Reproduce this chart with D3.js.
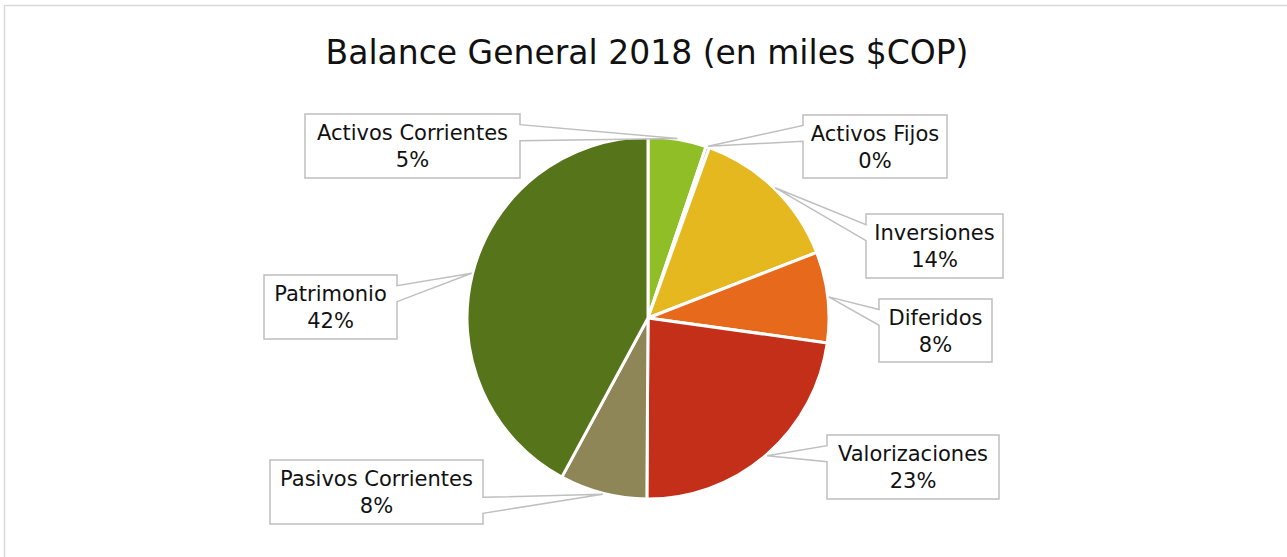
<!DOCTYPE html>
<html>
<head>
<meta charset="utf-8">
<script src="https://cdn.jsdelivr.net/npm/d3@7.9.0/dist/d3.min.js"></script>
<style>
  body { margin: 0; background: #fff; }
  svg { display: block; }
  text { font-family: "DejaVu Sans", sans-serif; fill: #111; }
</style>
</head>
<body>
<svg width="1287" height="557"></svg>
<script>
const categories = ['Activos Corrientes', 'Activos Fijos', 'Inversiones', 'Diferidos',
                    'Valorizaciones', 'Pasivos Corrientes', 'Patrimonio'];
const shares = [5.2, 0.3, 13.6, 8.1, 22.9, 7.8, 42.1];
const sliceColors = ['#8fbe26', '#7f7f7f', '#e6b820', '#e7691c', '#c42f19', '#8f8658', '#56741a'];

// callout boxes [left, top, width, height]
const boxes = [
  [305, 114, 215, 64],
  [803, 115, 144, 63],
  [866, 214, 137, 64],
  [879, 299, 113, 63],
  [827, 435, 172, 64],
  [270, 460, 213, 64],
  [264, 275, 133, 64]
];

const svg = d3.select('svg');
const cx = 648, cy = 318, r = 181;

// chart frame
svg.append('rect')
  .attr('x', 4.5).attr('y', 5.5)
  .attr('width', 1300).attr('height', 570)
  .attr('fill', 'none').attr('stroke', '#d9d9d9').attr('stroke-width', 1.5);

svg.append('text')
  .attr('x', 647).attr('y', 64)
  .attr('text-anchor', 'middle')
  .style('font-size', '33px')
  .text('Balance General 2018 (en miles $COP)');

const total = d3.sum(shares);
const pie = d3.pie().sort(null).value((d) => d);
const arcData = pie(shares);
const arcGen = d3.arc().innerRadius(0).outerRadius(r);
const tipArc = d3.arc().innerRadius(r + 1).outerRadius(r + 1);

const g = svg.append('g').attr('transform', `translate(${cx},${cy})`);
g.selectAll('path')
  .data(arcData)
  .join('path')
  .attr('d', arcGen)
  .attr('fill', (d, i) => sliceColors[i])
  .attr('stroke', '#fff')
  .attr('stroke-width', 3)
  .attr('stroke-linejoin', 'round');

// rectangular callout with a wedge pointing at the slice
function callout(l, t, w, h, px, py) {
  const rr = l + w, b = t + h;
  const dxPos = px - (l + w / 2), dyPos = py - (t + h / 2);
  const dq = dxPos * h / w;
  if (Math.abs(dyPos) <= Math.abs(dq)) {
    const y1 = t + h * (dyPos >= 0 ? 7 : 2) / 12;
    const y2 = t + h * (dyPos >= 0 ? 10 : 5) / 12;
    if (dxPos < 0) return `M${l},${t}L${rr},${t}L${rr},${b}L${l},${b}L${l},${y2}L${px},${py}L${l},${y1}Z`;
    return `M${l},${t}L${rr},${t}L${rr},${y1}L${px},${py}L${rr},${y2}L${rr},${b}L${l},${b}Z`;
  }
  const x1 = l + w * (dxPos >= 0 ? 7 : 2) / 12;
  const x2 = l + w * (dxPos >= 0 ? 10 : 5) / 12;
  if (dyPos < 0) return `M${l},${t}L${x1},${t}L${px},${py}L${x2},${t}L${rr},${t}L${rr},${b}L${l},${b}Z`;
  return `M${l},${t}L${rr},${t}L${rr},${b}L${x2},${b}L${px},${py}L${x1},${b}L${l},${b}Z`;
}

arcData.forEach((d, i) => {
  const [l, t, w, h] = boxes[i];
  const [tx, ty] = tipArc.centroid(d);
  svg.append('path')
    .attr('d', callout(l, t, w, h, cx + tx, cy + ty))
    .attr('fill', '#fff')
    .attr('stroke', '#bfbfbf')
    .attr('stroke-width', 1.5);
  const mid = t + h / 2;
  svg.append('text')
    .attr('x', l + w / 2).attr('y', mid - 6)
    .attr('text-anchor', 'middle')
    .style('font-size', '21px')
    .text(categories[i]);
  svg.append('text')
    .attr('x', l + w / 2).attr('y', mid + 21)
    .attr('text-anchor', 'middle')
    .style('font-size', '21px')
    .text(Math.round(d.value / total * 100) + '%');
});
</script>
</body>
</html>
